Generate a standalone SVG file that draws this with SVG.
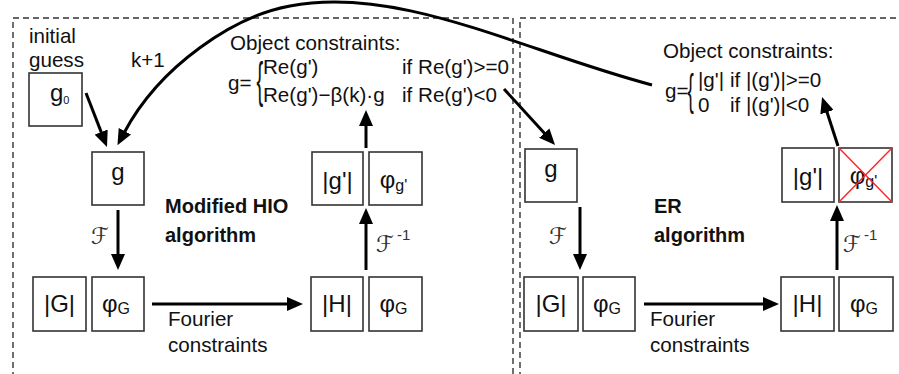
<svg xmlns="http://www.w3.org/2000/svg" width="899" height="374" viewBox="0 0 899 374">
<style>
  text { font-family: "Liberation Sans", Arial, sans-serif; fill: #111; }
  .t { font-size: 20.6px; }
  .b { font-size: 20px; font-weight: bold; }
  .lbl { font-size: 24px; }
  .box { fill: #fff; stroke: #333; stroke-width: 1.6; }
  .dash { fill: none; stroke: #333; stroke-width: 1.4; stroke-dasharray: 6 4; }
  .arr { fill: none; stroke: #000; stroke-width: 3; marker-end: url(#ah); }
  .sf { font-family: "DejaVu Serif", "DejaVu Sans", serif; font-size: 23px; fill: #333; }
  .sup { font-size: 15px; fill: #333; }
  .brace { font-size: 50px; }
</style>
<defs>
  <marker id="ah" markerUnits="userSpaceOnUse" markerWidth="16" markerHeight="14" refX="2" refY="7" orient="auto">
    <path d="M0,0 L16,7 L0,14 z" fill="#000"/>
  </marker>
</defs>
<rect width="899" height="374" fill="#fff"/>

<!-- panels -->
<rect class="dash" x="13" y="18" width="500" height="420"/>
<rect class="dash" x="520" y="18" width="420" height="420"/>

<!-- connectors -->
<g id="connectors">
  <path class="arr" d="M652,85 C520,50 400,-15 290,6 C235,16 160,65 124,133"/>
  <line class="arr" x1="86" y1="93" x2="101.9" y2="133.9"/>
  <line class="arr" x1="118" y1="210" x2="118" y2="256"/>
  <line class="arr" x1="152" y1="304" x2="289" y2="304"/>
  <line class="arr" x1="366" y1="270" x2="366" y2="222"/>
  <line class="arr" x1="366" y1="148" x2="366" y2="124"/>
  <line class="arr" x1="504" y1="89" x2="545.6" y2="134.6"/>
  <line class="arr" x1="580" y1="207" x2="580" y2="256"/>
  <line class="arr" x1="644" y1="304" x2="765" y2="304"/>
  <line class="arr" x1="837" y1="270" x2="837" y2="219"/>
  <line class="arr" x1="838" y1="146" x2="826.4" y2="110.3"/>
</g>

<!-- left panel texts -->
<g id="left-labels">
  <text class="t" x="29" y="43">initial</text>
  <text class="t" x="29" y="67">guess</text>
  <text class="t" x="131" y="67">k+1</text>
  <text class="t" x="230" y="50">Object constraints:</text>
  <text class="t" x="228" y="90">g=</text>
  <text class="brace" transform="translate(256.5,97) scale(0.4,1)">{</text>
  <text class="t" x="263" y="74">Re(g')</text>
  <text class="t" x="402" y="74">if Re(g')&gt;=0</text>
  <text class="t" x="263" y="102">Re(g')−β(k)·g</text>
  <text class="t" x="402" y="102">if Re(g')&lt;0</text>
  <text class="b" x="165" y="213">Modified HIO</text>
  <text class="b" x="165" y="242">algorithm</text>
  <text class="t" x="168" y="326">Fourier</text>
  <text class="t" x="168" y="352">constraints</text>
  <text class="sf" x="91" y="244">ℱ</text>
  <text class="sf" x="376" y="252">ℱ</text>
  <text class="sup" x="397" y="240">-1</text>
</g>

<!-- right panel texts -->
<g id="right-labels">
  <text class="t" x="663" y="58">Object constraints:</text>
  <text class="t" x="665" y="98">g=</text>
  <text class="brace" transform="translate(687.5,105) scale(0.38,0.9)">{</text>
  <text class="t" x="698" y="87">|g'|</text>
  <text class="t" x="730" y="87">if |(g')|&gt;=0</text>
  <text class="t" x="698" y="112">0</text>
  <text class="t" x="730" y="112">if |(g')|&lt;0</text>
  <text class="b" x="654" y="213">ER</text>
  <text class="b" x="654" y="242">algorithm</text>
  <text class="t" x="650" y="326">Fourier</text>
  <text class="t" x="650" y="352">constraints</text>
  <text class="sf" x="549" y="244">ℱ</text>
  <text class="sf" x="843" y="252">ℱ</text>
  <text class="sup" x="864" y="240">-1</text>
</g>

<!-- left nodes -->
<g id="g0">
  <rect class="box" x="29" y="73" width="53" height="53"/>
  <text class="lbl" x="50" y="101">g<tspan font-size="11" dy="3">0</tspan></text>
</g>
<g id="g-left">
  <rect class="box" x="92" y="152" width="52" height="53"/>
  <text class="lbl" x="118" y="180" text-anchor="middle">g</text>
</g>
<g id="G-mag-left">
  <rect class="box" x="33" y="277" width="53" height="54"/>
  <text class="lbl" x="59.5" y="312" text-anchor="middle">|G|</text>
</g>
<g id="G-phase-left">
  <rect class="box" x="92" y="277" width="52" height="54"/>
  <text class="lbl" x="116" y="312" text-anchor="middle">φ<tspan font-size="16" dy="2">G</tspan></text>
</g>
<g id="H-mag-left">
  <rect class="box" x="311" y="277" width="52" height="54"/>
  <text class="lbl" x="337" y="312" text-anchor="middle">|H|</text>
</g>
<g id="H-phase-left">
  <rect class="box" x="369" y="277" width="53" height="54"/>
  <text class="lbl" x="393.5" y="312" text-anchor="middle">φ<tspan font-size="16" dy="2">G</tspan></text>
</g>
<g id="gp-mag-left">
  <rect class="box" x="312" y="152" width="51" height="53"/>
  <text class="lbl" x="337.5" y="189" text-anchor="middle">|g'|</text>
</g>
<g id="gp-phase-left">
  <rect class="box" x="369" y="152" width="53" height="53"/>
  <text class="lbl" x="393.5" y="188" text-anchor="middle">φ<tspan font-size="16" dy="3">g'</tspan></text>
</g>

<!-- right nodes -->
<g id="g-right">
  <rect class="box" x="525" y="149" width="52" height="53"/>
  <text class="lbl" x="551" y="177" text-anchor="middle">g</text>
</g>
<g id="G-mag-right">
  <rect class="box" x="524" y="277" width="54" height="54"/>
  <text class="lbl" x="551" y="312" text-anchor="middle">|G|</text>
</g>
<g id="G-phase-right">
  <rect class="box" x="583" y="277" width="52" height="54"/>
  <text class="lbl" x="607" y="312" text-anchor="middle">φ<tspan font-size="16" dy="2">G</tspan></text>
</g>
<g id="H-mag-right">
  <rect class="box" x="781" y="277" width="53" height="54"/>
  <text class="lbl" x="807.5" y="312" text-anchor="middle">|H|</text>
</g>
<g id="H-phase-right">
  <rect class="box" x="839" y="277" width="54" height="54"/>
  <text class="lbl" x="864" y="312" text-anchor="middle">φ<tspan font-size="16" dy="2">G</tspan></text>
</g>
<g id="gp-mag-right">
  <rect class="box" x="782" y="148" width="52" height="54"/>
  <text class="lbl" x="808" y="185" text-anchor="middle">|g'|</text>
</g>
<g id="gp-phase-right">
  <rect class="box" x="839" y="148" width="53" height="54"/>
  <text class="lbl" x="863.5" y="184" text-anchor="middle">φ<tspan font-size="16" dy="3">g'</tspan></text>
  <line x1="839" y1="148" x2="892" y2="202" stroke="#f22" stroke-width="1.4"/>
  <line x1="892" y1="148" x2="839" y2="202" stroke="#f22" stroke-width="1.4"/>
</g>
</svg>
